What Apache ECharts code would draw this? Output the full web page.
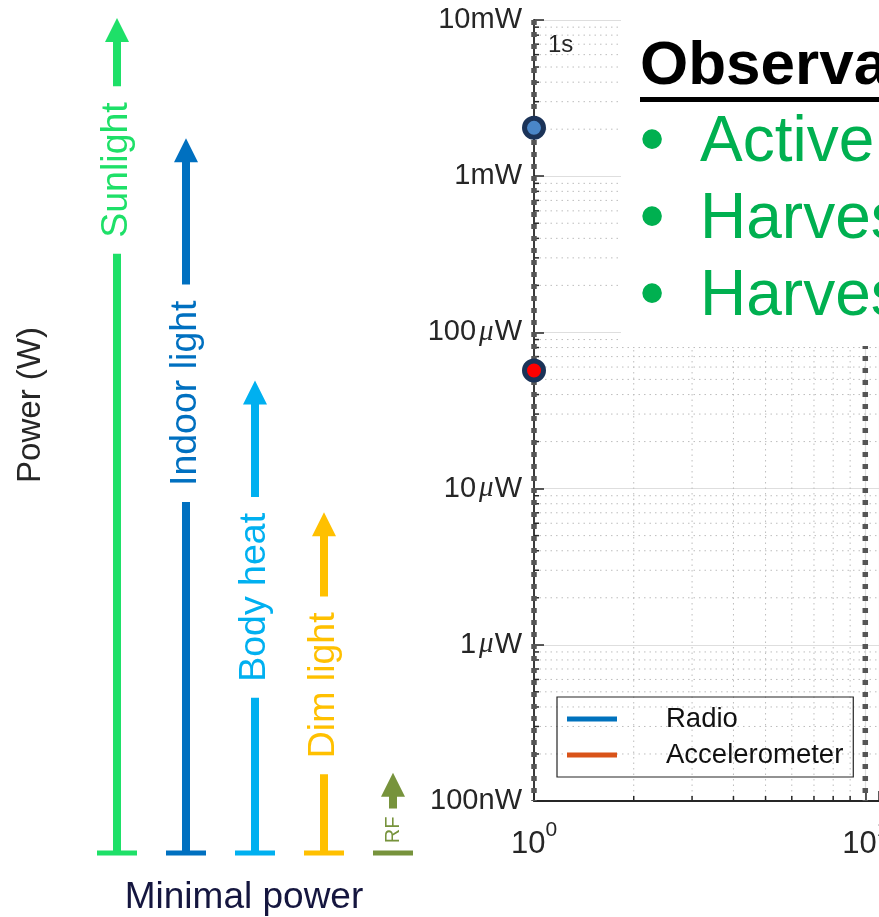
<!DOCTYPE html>
<html>
<head>
<meta charset="utf-8">
<title>Power budget</title>
<script src="https://cdn.jsdelivr.net/npm/echarts@6/dist/echarts.min.js"></script>
<style>
  html, body { margin: 0; padding: 0; background: #fff; }
  #main { width: 879px; height: 917px; }
</style>
</head>
<body>
<div id="main"></div>
<script>
// ---- left diagram: harvesting sources, arrow tip as % of the drawing height
const sources = ['Sunlight', 'Indoor light', 'Body heat', 'Dim light', 'RF'];
const sourceLevel = [100, 85.6, 56.6, 40.8, 9.6];
const sourceColors = ['#1ee068', '#0070c0', '#00b0f0', '#ffc000', '#77933c'];

// ---- right plot: power vs time (log/log)
const radioTime = [1];
const radioPower = [2.04e-3];
const accelTime = [1];
const accelPower = [5.7e-5];
const markTimes = [1, 10];
const markLabels = ['1s', '10s'];
const yTickValues = [1e-7, 1e-6, 1e-5, 1e-4, 1e-3, 1e-2];
const yTickLabels = [['100', 'n'], ['1', 'μ'], ['10', 'μ'], ['100', 'μ'], ['1', 'm'], ['10', 'm']];
const xTickValues = [1, 10];
const xTickExp = ['0', '1'];
const minorSteps = [2, 3, 4, 5, 6, 7, 8, 9];

const FONT = '"Liberation Sans", Arial, sans-serif';
const AXIS = '#262626';

// layout of the arrow labels (px below the tip) and their font size
const labelDrop = [152, 255, 217, 173, 57];
const labelSize = [37.5, 37.5, 37.5, 37.5, 20];

let yMinor = [];
for (let d = 0; d < yTickValues.length - 1; d++) {
  minorSteps.forEach(k => yMinor.push(k * yTickValues[d]));
}
const xMinor = minorSteps.map(k => k * xTickValues[0]);

const chart = echarts.init(document.getElementById('main'));

function renderArrow(params, api) {
  const i = params.dataIndex;
  const base = api.coord([api.value(0), 0]);
  const tip = api.coord([api.value(0), api.value(1)]);
  const x = base[0];
  const color = sourceColors[i];
  const head = 24, shaftW = 8, capW = 40, capH = 5;
  const fs = labelSize[i];
  return {
    type: 'group',
    children: [
      {type: 'rect', shape: {x: x - shaftW / 2, y: tip[1] + head - 1, width: shaftW, height: base[1] - tip[1] - head + 1}, style: {fill: color}},
      {type: 'polygon', shape: {points: [[x, tip[1]], [x - head / 2, tip[1] + head], [x + head / 2, tip[1] + head]]}, style: {fill: color}},
      {type: 'text', x: x, y: tip[1] + labelDrop[i], rotation: Math.PI / 2,
        style: {text: sources[i], fill: color, font: fs + 'px ' + FONT, align: 'center', verticalAlign: 'middle',
          backgroundColor: '#fff', padding: [0, Math.round(fs * 0.42)]}},
      {type: 'rect', shape: {x: x - capW / 2, y: base[1] - capH / 2, width: capW, height: capH}, style: {fill: color}}
    ]
  };
}

function renderGrid(params, api) {
  const cs = params.coordSys;
  const p = api.coord([api.value(0), api.value(1)]);
  const style = {stroke: '#bdbdbd', lineWidth: 1, lineDash: [1.5, 4]};
  if (api.value(2) === 0) {
    return {type: 'line', shape: {x1: cs.x, y1: p[1], x2: cs.x + cs.width, y2: p[1]}, style: style};
  }
  return {type: 'line', shape: {x1: p[0], y1: cs.y, x2: p[0], y2: cs.y + cs.height}, style: style};
}

function renderTick(params, api) {
  const p = api.coord([api.value(0), api.value(1)]);
  const style = {stroke: AXIS, lineWidth: 1.5};
  if (api.value(2) === 0) {
    return {type: 'line', shape: {x1: p[0], y1: p[1], x2: p[0] + 5, y2: p[1]}, style: style};
  }
  return {type: 'line', shape: {x1: p[0], y1: p[1], x2: p[0], y2: p[1] - 5}, style: style};
}

function renderMark(params, api) {
  const cs = params.coordSys;
  const x = api.coord([api.value(0), api.value(1)])[0];
  return {
    type: 'group',
    children: [
      {type: 'line', shape: {x1: x, y1: cs.y, x2: x, y2: cs.y + cs.height},
        style: {stroke: '#555555', lineWidth: 5.5, lineDash: [5, 7]}},
      {type: 'text', x: x + 14, y: cs.y + 25,
        style: {text: markLabels[params.dataIndex], fill: AXIS, font: '24px ' + FONT, align: 'left', verticalAlign: 'middle'}}
    ]
  };
}

const markerStyle = (fill) => ({color: fill, borderColor: '#1b3358', borderWidth: 5});

const option = {
  animation: false,
  backgroundColor: '#fff',
  grid: [
    {left: 82.5, top: 18, width: 345, height: 835, outerBoundsMode: 'none', containLabel: false},
    {left: 534, top: 20, width: 345, height: 781, outerBoundsMode: 'none', containLabel: false}
  ],
  xAxis: [
    {gridIndex: 0, type: 'category', data: sources, show: false},
    {
      gridIndex: 1, type: 'log', logBase: 10, min: 1, max: 11,
      axisLine: {show: true, lineStyle: {color: AXIS, width: 1.8}},
      axisTick: {inside: true, length: 10, lineStyle: {color: AXIS, width: 1.5}},
      splitLine: {show: true, lineStyle: {color: '#dedede', width: 1.2}},
      axisLabel: {
        margin: 28,
        formatter: function (v) {
          const i = xTickValues.findIndex(t => Math.abs(t - v) < 1e-6);
          return i < 0 ? '' : '{b|10}{s|' + xTickExp[i] + '}';
        },
        rich: {
          b: {fontSize: 31, fontFamily: FONT, color: AXIS, verticalAlign: 'bottom', lineHeight: 31},
          s: {fontSize: 21, fontFamily: FONT, color: AXIS, verticalAlign: 'bottom', lineHeight: 21, padding: [0, 0, 19, 0]}
        }
      }
    }
  ],
  yAxis: [
    {gridIndex: 0, type: 'value', min: 0, max: 100, show: false},
    {
      gridIndex: 1, type: 'log', logBase: 10, min: 1e-7, max: 1e-2,
      axisLine: {show: true, lineStyle: {color: AXIS, width: 1.8}},
      axisTick: {show: true, inside: true, length: 10, lineStyle: {color: AXIS, width: 1.5}},
      splitLine: {show: true, lineStyle: {color: '#dedede', width: 1.2}},
      axisLabel: {
        margin: 12,
        formatter: function (v) {
          const i = yTickValues.findIndex(t => Math.abs(Math.log10(t) - Math.log10(v)) < 1e-6);
          if (i < 0) return '';
          const num = yTickLabels[i][0], pre = yTickLabels[i][1];
          return pre === 'μ' ? '{n|' + num + '}{mu|μ}{n|W}' : '{n|' + num + pre + 'W}';
        },
        rich: {
          n: {fontSize: 29, fontFamily: FONT, color: AXIS},
          mu: {fontSize: 29, fontFamily: '"Liberation Serif", serif', fontStyle: 'italic', color: AXIS, padding: [0, 1, 0, 3]}
        }
      }
    }
  ],
  legend: {
    data: ['Radio', 'Accelerometer'],
    orient: 'vertical',
    left: 557, top: 697,
    padding: [8, 10, 8, 10],
    itemGap: 8,
    icon: 'rect',
    itemWidth: 50, itemHeight: 5,
    borderColor: AXIS, borderWidth: 1.2,
    selectedMode: false,
    textStyle: {fontSize: 27.5, fontFamily: FONT, color: '#111', lineHeight: 28, padding: [0, 0, 0, 44]}
  },
  series: [
    {
      type: 'custom', xAxisIndex: 0, yAxisIndex: 0, silent: true,
      data: sourceLevel.map((v, i) => [i, v]),
      renderItem: renderArrow
    },
    {
      type: 'custom', xAxisIndex: 1, yAxisIndex: 1, silent: true, z: 1,
      data: yMinor.map(v => [xTickValues[0], v, 0]).concat(xMinor.map(v => [v, yTickValues[0], 1])),
      renderItem: renderGrid
    },
    {
      type: 'custom', xAxisIndex: 1, yAxisIndex: 1, silent: true, z: 3,
      data: yMinor.map(v => [xTickValues[0], v, 0]).concat(xMinor.map(v => [v, yTickValues[0], 1])),
      renderItem: renderTick
    },
    {
      type: 'custom', xAxisIndex: 1, yAxisIndex: 1, silent: true, z: 3,
      data: markTimes.map(t => [t, yTickValues[yTickValues.length - 1]]),
      renderItem: renderMark
    },
    {
      name: 'Radio', type: 'line', xAxisIndex: 1, yAxisIndex: 1, z: 5,
      itemStyle: {color: '#0072BD'}, lineStyle: {color: '#0072BD', width: 3},
      symbol: 'circle', symbolSize: 19, showSymbol: true,
      data: radioTime.map((t, i) => ({value: [t, radioPower[i]], itemStyle: markerStyle('#4a86c8')}))
    },
    {
      name: 'Accelerometer', type: 'line', xAxisIndex: 1, yAxisIndex: 1, z: 5,
      itemStyle: {color: '#D95319'}, lineStyle: {color: '#D95319', width: 3},
      symbol: 'circle', symbolSize: 19, showSymbol: true,
      data: accelTime.map((t, i) => ({value: [t, accelPower[i]], itemStyle: markerStyle('#ff0000')}))
    }
  ],
  graphic: [
    {type: 'rect', z: 100, shape: {x: 621, y: 0, width: 258, height: 346}, style: {fill: '#fff'}},
    {type: 'text', z: 101, x: 640, y: 67, style: {text: 'Observations', font: 'bold 62px ' + FONT, fill: '#000', align: 'left', verticalAlign: 'middle'}},
    {type: 'rect', z: 101, shape: {x: 640, y: 97, width: 240, height: 5}, style: {fill: '#000'}},
    {type: 'text', z: 101, x: 652, y: 143, style: {text: '•', font: '72px ' + FONT, fill: '#00b050', align: 'center', verticalAlign: 'middle'}},
    {type: 'text', z: 101, x: 700, y: 143, style: {text: 'Active', font: '64px ' + FONT, fill: '#00b050', align: 'left', verticalAlign: 'middle'}},
    {type: 'text', z: 101, x: 652, y: 220, style: {text: '•', font: '72px ' + FONT, fill: '#00b050', align: 'center', verticalAlign: 'middle'}},
    {type: 'text', z: 101, x: 700, y: 220, style: {text: 'Harvesting', font: '64px ' + FONT, fill: '#00b050', align: 'left', verticalAlign: 'middle'}},
    {type: 'text', z: 101, x: 652, y: 297, style: {text: '•', font: '72px ' + FONT, fill: '#00b050', align: 'center', verticalAlign: 'middle'}},
    {type: 'text', z: 101, x: 700, y: 297, style: {text: 'Harvesting', font: '64px ' + FONT, fill: '#00b050', align: 'left', verticalAlign: 'middle'}},
    {type: 'text', x: 31, y: 405, rotation: Math.PI / 2, style: {text: 'Power (W)', font: '33px ' + FONT, fill: AXIS, align: 'center', verticalAlign: 'middle'}},
    {type: 'text', x: 244, y: 898, style: {text: 'Minimal power', font: '37px ' + FONT, fill: '#15163f', align: 'center', verticalAlign: 'middle'}}
  ]
};

chart.setOption(option);
</script>
</body>
</html>
